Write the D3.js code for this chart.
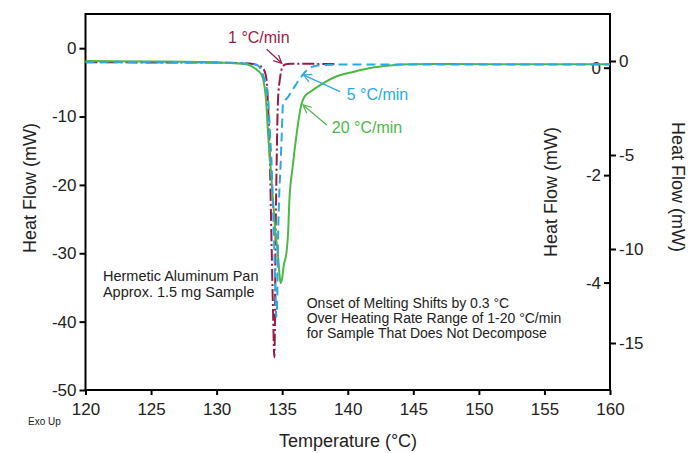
<!DOCTYPE html>
<html>
<head>
<meta charset="utf-8">
<script src="https://cdn.jsdelivr.net/npm/d3@7"></script>
<style>
  body { margin: 0; background: #fff; }
  svg { display: block; font-family: "Liberation Sans", Arial, sans-serif; }
  .axis path, .axis line { stroke: #000; stroke-width: 2; }
  .axis text { font-size: 17px; fill: #222; }
</style>
</head>
<body>
<svg width="689" height="453"></svg>
<script>
// Temperature (°C) and heat flow (mW), one pair of arrays per heating rate.
// 20 °C/min -> left axis
const tempFast = [120, 124.9, 128.7, 131.0, 132.3, 132.9, 133.44, 133.62, 133.77, 133.92, 134.11, 134.3, 134.49,
  134.68, 134.8, 134.87, 134.99, 135.1, 135.35, 135.45, 135.55, 135.8, 136.11, 136.49, 136.74, 137.12, 137.89,
  139.03, 140.4, 141.7, 143.22, 144.75, 147.8, 153.9, 160];
const flowFast = [-1.88, -1.95, -2.02, -2.17, -2.36, -2.94, -3.92, -5.24, -7.58, -12.41, -17.24, -22.21, -27.04,
  -30.25, -33.18, -34.35, -33.77, -32.01, -29.52, -27.04, -22.21, -17.38, -12.41, -8.02, -7.0, -6.41, -5.39,
  -4.22, -3.48, -2.9, -2.53, -2.36, -2.31, -2.36, -2.36];

// 5 °C/min -> outer right axis
const tempMid = [120, 128.73, 131.78, 132.55, 133.08, 133.46, 133.69, 133.92, 134.07, 134.2, 134.28, 134.4, 134.48,
  134.55, 134.62, 134.67, 134.76, 134.87, 134.97, 135.06, 135.45, 135.83, 136.28, 136.74, 137.35, 138.27, 139.41, 160];
const flowMid = [-0.07, -0.08, -0.11, -0.16, -0.21, -0.59, -1.13, -1.93, -3.85, -5.64, -7.39, -10.05, -12.18,
  -13.62, -12.71, -10.05, -7.39, -5.64, -3.83, -2.29, -1.91, -1.49, -1.01, -0.59, -0.29, -0.21, -0.19, -0.18];

// 1 °C/min -> inner right axis
const tempSlow = [120, 128.73, 131.78, 132.78, 133.31, 133.62, 133.81, 133.9, 134.04, 134.2, 134.3, 134.4, 134.45,
  134.49, 134.57, 134.68, 134.84, 134.99, 135.22, 135.6, 139.0];
const flowSlow = [0.10, 0.097, 0.088, 0.069, 0.032, -0.043, -0.23, -0.6, -1.53, -3.39, -4.51, -5.39, -4.7,
  -3.39, -1.9, -0.6, -0.19, -0.005, 0.06, 0.073, 0.069];

const xTicks = [120, 125, 130, 135, 140, 145, 150, 155, 160];
const leftTicks = [0, -10, -20, -30, -40, -50];
const innerTicks = [0, -2, -4];
const outerTicks = [0, -5, -10, -15];

const svg = d3.select('svg');
const plotL = 85.5, plotR = 610, plotT = 14, plotB = 390;

const x = d3.scaleLinear().domain([120, 160]).range([plotL, plotR]);
const yLeft = d3.scaleLinear().domain([-50, 5]).range([plotB, plotT]);      // 20 °C/min
const yInner = d3.scaleLinear().domain([-6, 1]).range([plotB, plotT]);      // 1 °C/min
const yOuter = d3.scaleLinear().domain([-17.5, 2.5]).range([plotB, plotT]); // 5 °C/min

const red = '#9b1b47', blue = '#29a9e1', green = '#4db848';
const plain = d => String(d);   // hyphen minus like the original

// frame
svg.append('rect')
  .attr('x', plotL).attr('y', plotT)
  .attr('width', plotR - plotL).attr('height', plotB - plotT)
  .attr('fill', 'none').attr('stroke', '#000').attr('stroke-width', 2);

// axes
svg.append('g').attr('class', 'axis')
  .attr('transform', `translate(0,${plotB})`)
  .call(d3.axisBottom(x).tickValues(xTicks).tickFormat(plain).tickSizeOuter(0).tickSize(5).tickPadding(8));

svg.append('g').attr('class', 'axis')
  .attr('transform', `translate(${plotL},0)`)
  .call(d3.axisLeft(yLeft).tickValues(leftTicks).tickFormat(plain).tickSizeOuter(0).tickSize(6).tickPadding(3));

svg.append('g').attr('class', 'axis')
  .attr('transform', `translate(${plotR},0)`)
  .call(d3.axisLeft(yInner).tickValues(innerTicks).tickFormat(plain).tickSizeOuter(0).tickSize(6).tickPadding(3));

svg.append('g').attr('class', 'axis')
  .attr('transform', `translate(${plotR},0)`)
  .call(d3.axisRight(yOuter).tickValues(outerTicks).tickFormat(plain).tickSizeOuter(0).tickSize(6).tickPadding(3));

svg.selectAll('.axis .domain').remove();

// axis titles
svg.append('text').attr('x', 348).attr('y', 447)
  .attr('text-anchor', 'middle').attr('font-size', 18).attr('fill', '#222')
  .text('Temperature (°C)');
svg.append('text').attr('transform', 'translate(30,188) rotate(-90)')
  .attr('text-anchor', 'middle').attr('dominant-baseline', 'central').attr('font-size', 18).attr('fill', '#222')
  .text('Heat Flow (mW)');
svg.append('text').attr('transform', 'translate(551,192) rotate(-90)')
  .attr('text-anchor', 'middle').attr('dominant-baseline', 'central').attr('font-size', 18).attr('fill', '#222')
  .text('Heat Flow (mW)');
svg.append('text').attr('transform', 'translate(678,187) rotate(90)')
  .attr('text-anchor', 'middle').attr('dominant-baseline', 'central').attr('font-size', 18).attr('fill', '#222')
  .text('Heat Flow (mW)');
svg.append('text').attr('x', 28).attr('y', 425).attr('font-size', 10).attr('fill', '#222').text('Exo Up');

// curves
function draw(temps, flows, yScale, color, dash) {
  const pts = temps.map((t, i) => [t, flows[i]]);
  const line = d3.line().x(d => x(d[0])).y(d => yScale(d[1])).curve(d3.curveMonotoneX);
  svg.append('path').datum(pts)
    .attr('d', line)
    .attr('fill', 'none').attr('stroke', color).attr('stroke-width', 2)
    .attr('stroke-dasharray', dash);
}
draw(tempSlow, flowSlow, yInner, red, '12,3,2,3');
draw(tempFast, flowFast, yLeft, green, null);
draw(tempMid, flowMid, yOuter, blue, '9,5');

// annotations: label + thin arrow, positioned in each curve's own units
function arrow(t0, v0, t1, v1, yScale, color) {
  const x0 = x(t0), y0 = yScale(v0), x1 = x(t1), y1 = yScale(v1);
  const a = Math.atan2(y1 - y0, x1 - x0), h = 9, w = 0.45;
  svg.append('line').attr('x1', x0).attr('y1', y0).attr('x2', x1).attr('y2', y1)
    .attr('stroke', color).attr('stroke-width', 1.2);
  svg.append('path')
    .attr('d', `M${x1 - h * Math.cos(a - w)},${y1 - h * Math.sin(a - w)}L${x1},${y1}L${x1 - h * Math.cos(a + w)},${y1 - h * Math.sin(a + w)}`)
    .attr('fill', 'none').attr('stroke', color).attr('stroke-width', 1.2);
}
function label(t, v, yScale, color, txt) {
  svg.append('text').attr('x', x(t)).attr('y', yScale(v))
    .attr('font-size', 16).attr('fill', color).text(txt);
}
label(130.87, 0.455, yInner, red, '1 °C/min');
arrow(133.82, 0.343, 134.97, 0.082, yInner, red);
label(139.92, -2.07, yOuter, blue, '5 °C/min');
arrow(139.41, -1.63, 136.61, -0.74, yOuter, blue);
label(138.78, -12.45, yLeft, green, '20 °C/min');
arrow(138.4, -11.24, 136.59, -8.31, yLeft, green);

// notes
const noteA = ['Hermetic Aluminum Pan', 'Approx. 1.5 mg Sample'];
const noteB = ['Onset of Melting Shifts by 0.3 °C', 'Over Heating Rate Range of 1-20 °C/min', 'for Sample That Does Not Decompose'];
svg.append('text').attr('x', x(121.33)).attr('y', yLeft(-34.06))
  .attr('font-size', 14.5).attr('fill', '#222')
  .selectAll('tspan').data(noteA).join('tspan')
  .attr('x', x(121.33)).attr('dy', (d, i) => i ? 16 : 0).text(d => d);
svg.append('text').attr('x', x(136.87)).attr('y', yLeft(-38.05))
  .attr('font-size', 14).attr('fill', '#222')
  .selectAll('tspan').data(noteB).join('tspan')
  .attr('x', x(136.87)).attr('dy', (d, i) => i ? 15 : 0).text(d => d);
</script>
</body>
</html>
